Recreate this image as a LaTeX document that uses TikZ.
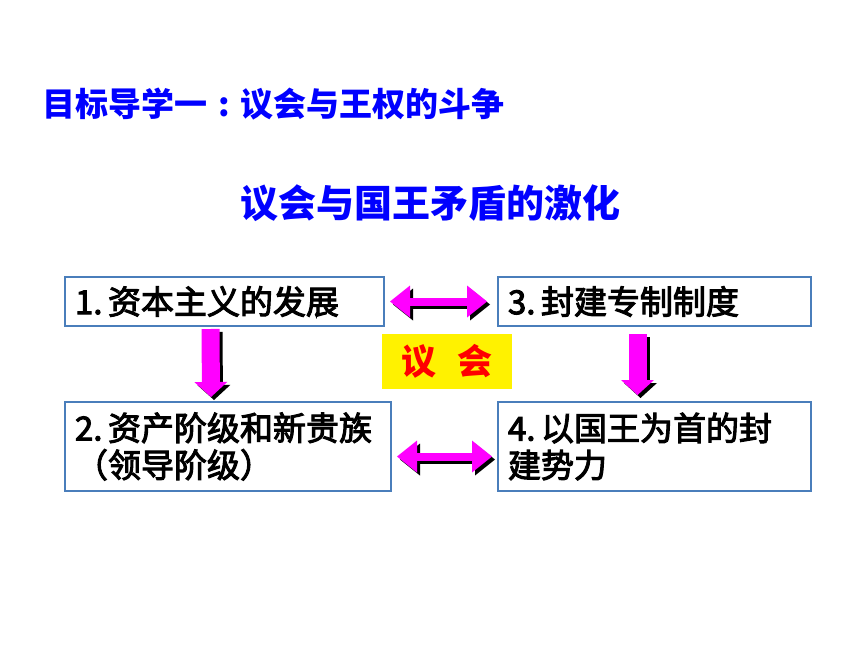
\documentclass[tikz,border=0pt]{standalone}
\usepackage{fontspec}
\setmainfont{Noto Sans CJK SC}
\newfontfamily\boxfont[FakeBold=3]{Noto Sans CJK SC}
\usetikzlibrary{arrows.meta}
\definecolor{titleblue}{HTML}{0000FF}
\definecolor{frameblue}{HTML}{4A7EBB}
\definecolor{arrowpink}{HTML}{FF00FF}
\definecolor{parlred}{HTML}{FF0000}
\begin{document}
\begin{tikzpicture}[x=1pt,y=-1pt,
    stagebox/.style={draw=frameblue, line width=2pt, fill=white, anchor=north west,
      inner xsep=10pt, inner ysep=0pt, align=left, font=\fontsize{33}{37}\boxfont},
    pushdown/.style={line width=18pt, -{Triangle[width=33pt,length=15pt,line width=0pt]}},
    pushboth/.style={line width=8pt, {Triangle[width=32pt,length=20pt,line width=0pt]}-{Triangle[width=32pt,length=20pt,line width=0pt]}},
    shade/.style={black, transform canvas={shift={(3pt,-3pt)}}}]
    \useasboundingbox [fill=white] (0,0) rectangle (860,645);
    \node [anchor=west, text=titleblue, font=\fontsize{33}{36}\selectfont\bfseries] (headline) at (39,104) {目标导学一\makebox[1em]{:}议会与王权的斗争};
    \node [anchor=west, text=titleblue, font=\fontsize{38}{42}\selectfont\bfseries] (subhead) at (237,203) {议会与国王矛盾的激化};
    \node [stagebox, text width=299pt, minimum height=49pt] (cap) at (64,276) {1.\,资本主义的发展};
    \node [stagebox, text width=293pt, minimum height=49pt] (feud) at (497,276) {3.\,封建专制制度};
    \node [stagebox, text width=306pt, minimum height=89pt] (bourg) at (64,401) {2.\,资产阶级和新贵族\\（领导阶级）};
    \node [stagebox, text width=293pt, minimum height=89pt] (lords) at (497,401) {4.\,以国王为首的封\\建势力};
    \node [fill=yellow, minimum width=130pt, minimum height=55pt, text=parlred, font=\fontsize{35}{40}\selectfont\bfseries] (parl) at (447,361.5) {议\hspace{22pt}会};
    % block arrows, shadow first
    \draw [pushdown, shade] ([xshift=-14pt,yshift=-2pt]cap.south) -- ([xshift=-17pt,yshift=4pt]bourg.north);
    \draw [pushdown, arrowpink] ([xshift=-14pt,yshift=-2pt]cap.south) -- ([xshift=-17pt,yshift=4pt]bourg.north);
    \draw [pushdown, shade] ([xshift=-17pt,yshift=-7pt]feud.south) -- ([xshift=-17pt,yshift=6pt]lords.north);
    \draw [pushdown, arrowpink] ([xshift=-17pt,yshift=-7pt]feud.south) -- ([xshift=-17pt,yshift=6pt]lords.north);
    \draw [pushboth, shade] ([xshift=5pt]cap.east) -- ([xshift=-10pt]feud.west);
    \draw [pushboth, arrowpink] ([xshift=5pt]cap.east) -- ([xshift=-10pt]feud.west);
    \draw [pushboth, shade] ([xshift=5pt,yshift=-10pt]bourg.east) -- ([xshift=-5pt,yshift=-10pt]lords.west);
    \draw [pushboth, arrowpink] ([xshift=5pt,yshift=-10pt]bourg.east) -- ([xshift=-5pt,yshift=-10pt]lords.west);
\end{tikzpicture}
\end{document}
